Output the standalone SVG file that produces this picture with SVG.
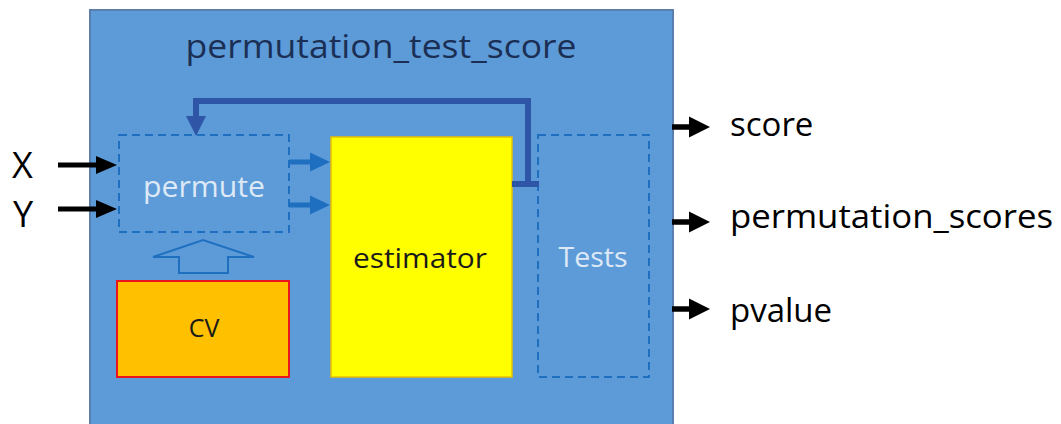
<svg xmlns="http://www.w3.org/2000/svg" width="1061" height="424" viewBox="0 0 1061 424">
<style>
text{font-family:"Open Sans","Liberation Sans",sans-serif}
.dash{fill:none;stroke:#1f6fc0;stroke-width:2;stroke-dasharray:8 5}
.light{fill:#dde9f6}
.dark{fill:#1a1a1a}
.out{fill:#000;font-size:33px}
.blk{fill:#000}
.blu{fill:#1f6fc0}
</style>
<defs>
<path id="blackArrow" d="M0,-2.5 H38 V-9 L59,0 L38,9 V2.5 H0 Z"/>
<path id="outArrow" d="M0,-2.8 H17 V-10.5 L38,0 L17,10.5 V2.8 H0 Z"/>
<path id="blueArrow" d="M0,-2.5 H21 V-9.5 L41,0 L21,9.5 V2.5 H0 Z"/>
</defs>
<g id="main">
<rect x="90" y="10" width="583" height="420" fill="#5d9bd8" stroke="#5a7fae" stroke-width="2"/>
<text x="381" y="58" text-anchor="middle" font-size="32" fill="#1b2f55" textLength="391" lengthAdjust="spacingAndGlyphs">permutation_test_score</text>
</g>
<g id="permute">
<rect class="dash" x="119" y="135" width="170" height="97"/>
<text class="light" x="204" y="197" text-anchor="middle" font-size="29" textLength="122" lengthAdjust="spacingAndGlyphs">permute</text>
</g>
<g id="estimator">
<rect x="331" y="137" width="181" height="240" fill="#ffff00" stroke="#e8c000" stroke-width="1.5"/>
<text class="dark" x="420" y="268" text-anchor="middle" font-size="28" textLength="134" lengthAdjust="spacingAndGlyphs">estimator</text>
</g>
<g id="tests">
<rect class="dash" x="538" y="135" width="111" height="242"/>
<text class="light" x="593" y="267" text-anchor="middle" font-size="28" textLength="69" lengthAdjust="spacingAndGlyphs">Tests</text>
</g>
<g id="cv">
<rect x="117" y="281" width="172" height="96" fill="#ffc000" stroke="#e8141e" stroke-width="2"/>
<text class="dark" x="204" y="337" text-anchor="middle" font-size="25">CV</text>
</g>
<g id="inputs">
<text x="12" y="178" font-size="36" class="blk">X</text>
<text x="13" y="227" font-size="36" class="blk">Y</text>
</g>
<g id="outputs">
<text class="out" x="730" y="136">score</text>
<text class="out" x="730" y="228" textLength="323" lengthAdjust="spacingAndGlyphs">permutation_scores</text>
<text class="out" x="730" y="322">pvalue</text>
</g>
<g id="connectors">
<use href="#blackArrow" x="58" y="165" class="blk"/>
<use href="#blackArrow" x="58" y="209" class="blk"/>
<use href="#outArrow" x="672" y="127" class="blk"/>
<use href="#outArrow" x="672" y="222" class="blk"/>
<use href="#outArrow" x="672" y="309" class="blk"/>
<use href="#blueArrow" x="289" y="162" class="blu"/>
<use href="#blueArrow" x="289" y="205" class="blu"/>
<path d="M512,184 H539 M528,184 V101 H196 V118" fill="none" stroke="#2f56a6" stroke-width="6"/>
<path d="M186,116 H206 L196,136 Z" fill="#2f56a6"/>
<path d="M179,273 V257 H153 L203,240 L254,257 H228 V273 Z" fill="none" stroke="#1f6fc0" stroke-width="2"/>
</g>
</svg>
